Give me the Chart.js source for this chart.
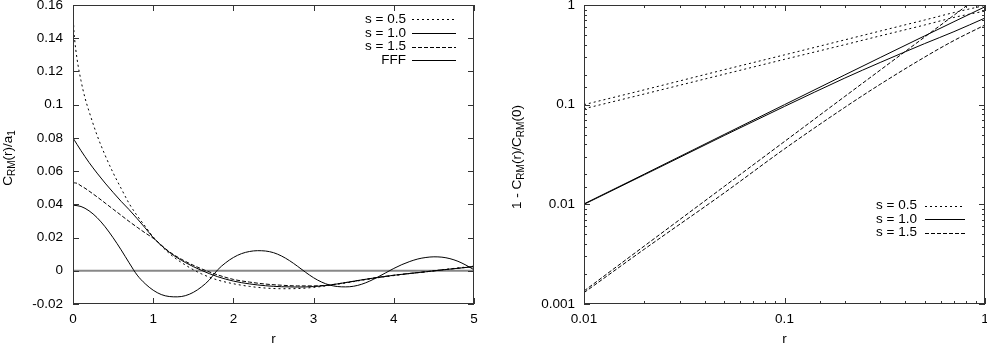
<!DOCTYPE html>
<html>
<head>
<meta charset="utf-8">
<script src="https://cdn.jsdelivr.net/npm/chart.js@4.4.1/dist/chart.umd.min.js"></script>
<style>
  body { margin: 0; background: #fff; }
  .panel { position: absolute; top: 0; height: 344px; }
</style>
</head>
<body>
<div class="panel" style="left:0;width:493px"><canvas id="leftChart"></canvas></div>
<div class="panel" style="left:493px;width:494px"><canvas id="rightChart"></canvas></div>
<script>
// left panel: C_RM(r)/a_1 against r
const rLeft = [0, 0.01, 0.02, 0.05, 0.1, 0.15, 0.2, 0.3, 0.4, 0.5, 0.6, 0.7, 0.8, 0.9, 1.0,
  1.2, 1.4, 1.6, 1.8, 2.0, 2.2, 2.4, 2.6, 2.8, 3.0, 3.2, 3.4, 3.6, 3.8, 4.0, 4.2, 4.4, 4.6, 4.8, 5.0];
const crmS05 = [0.16, 0.1454, 0.1395, 0.1277, 0.1144, 0.104, 0.096, 0.0816, 0.0696, 0.059, 0.0496, 0.0405, 0.0332, 0.0268, 0.0204,
  0.0105, 0.0035, -0.0018, -0.0055, -0.0078, -0.0094, -0.0104, -0.0108, -0.0107, -0.0100, -0.0088, -0.0073, -0.0057, -0.0042, -0.0029, -0.0017, -0.0006, 0.0006, 0.0017, 0.0028];
const crmS10 = [0.08, 0.0792, 0.0784, 0.0761, 0.0723, 0.0687, 0.0652, 0.0588, 0.0528, 0.0472, 0.0418, 0.0368, 0.0314, 0.0258, 0.0200,
  0.0112, 0.0050, 0.0003, -0.0035, -0.0062, -0.0079, -0.0090, -0.0096, -0.0098, -0.0095, -0.0086, -0.0071, -0.0055, -0.0040, -0.0027, -0.0016, -0.0006, 0.0005, 0.0015, 0.0025];
const crmS15 = [0.053, 0.053, 0.0529, 0.0527, 0.0511, 0.0497, 0.0480, 0.0445, 0.0408, 0.0371, 0.0334, 0.0297, 0.0262, 0.0228, 0.0196,
  0.0115, 0.0057, 0.0012, -0.0024, -0.0052, -0.0068, -0.0080, -0.0087, -0.0091, -0.0091, -0.0085, -0.0071, -0.0055, -0.0040, -0.0027, -0.0016, -0.0006, 0.0005, 0.0015, 0.0026];
const rFff = [0, 0.1, 0.2, 0.3, 0.4, 0.5, 0.6, 0.7, 0.8, 0.9, 1.0, 1.1, 1.2, 1.3, 1.4, 1.5, 1.6, 1.7, 1.8, 1.9, 2.0,
  2.1, 2.2, 2.3, 2.4, 2.5, 2.6, 2.7, 2.8, 2.9, 3.0, 3.1, 3.2, 3.3, 3.4, 3.5, 3.6, 3.7, 3.8, 3.9, 4.0,
  4.1, 4.2, 4.3, 4.4, 4.5, 4.6, 4.7, 4.8, 4.9, 5.0];
const crmFff = [0.0395, 0.0387, 0.0361, 0.0320, 0.0265, 0.0199, 0.0126, 0.0048, -0.0026, -0.0078, -0.0117, -0.0143, -0.0155, -0.0157, -0.0150, -0.0130, -0.0098, -0.0055, 0.0004, 0.0047, 0.0080,
  0.0103, 0.0116, 0.0121, 0.0119, 0.0109, 0.0089, 0.0061, 0.0027, -0.0009, -0.0042, -0.0068, -0.0086, -0.0095, -0.0097, -0.0093, -0.0081, -0.0062, -0.0038, -0.0012, 0.0014,
  0.0037, 0.0056, 0.0071, 0.0080, 0.0084, 0.0082, 0.0073, 0.0057, 0.0034, 0.0006];
const rZero = [0, 5];
const zeroLine = [0, 0];
const leftTicksY = [-0.02, 0.16, 0.02];   // min, max, step

// right panel: 1 - C_RM(r)/C_RM(0), log-log
const rRight = [0.01, 0.02, 0.05, 0.1, 0.2, 0.3, 0.5, 0.7, 1.0];
const dS05a = [0.1, 0.141, 0.224, 0.316, 0.447, 0.548, 0.707, 0.84, 0.99];
const dS05b = [0.091, 0.128, 0.202, 0.285, 0.40, 0.49, 0.63, 0.75, 0.87];
const dS10a = [0.0101, 0.0201, 0.0502, 0.100, 0.199, 0.297, 0.49, 0.68, 0.96];
const dS10b = [0.0100, 0.0198, 0.049, 0.096, 0.185, 0.265, 0.41, 0.54, 0.74];
const dS15a = [0.00135, 0.00382, 0.0151, 0.0427, 0.121, 0.222, 0.477, 0.79, 1.35];
const dS15b = [0.0013, 0.00355, 0.013, 0.036, 0.094, 0.16, 0.30, 0.44, 0.63];

const FAMILY = "'Liberation Sans', Arial, sans-serif";
const SIZE = 13.5;
const FRAME = "#333";
const DOTTED = [2, 3];
const DASHED = [4, 2];

Chart.defaults.font.family = FAMILY;
Chart.defaults.font.size = SIZE;
Chart.defaults.color = "#000";

function series(label, xs, ys, dash, extra) {
  return Object.assign({
    label,
    data: xs.map((x, i) => ({ x, y: ys[i] })),
    borderColor: "#000",
    borderWidth: 1,
    borderDash: dash,
    pointRadius: 0,
    fill: false,
    cubicInterpolationMode: "monotone",
  }, extra || {});
}

function isDecade(v) {
  const l = Math.log10(v);
  return Math.abs(l - Math.round(l)) < 1e-6;
}

// gnuplot style frame with inward ticks on all four sides
const frameTicks = {
  id: "frameTicks",
  afterDatasetsDraw(chart) {
    const { ctx, chartArea: a } = chart;
    ctx.save();
    ctx.strokeStyle = FRAME;
    ctx.lineWidth = 1;
    for (const scale of [chart.scales.x, chart.scales.y]) {
      const log = scale.type === "logarithmic";
      for (const t of scale.ticks) {
        const len = !log || isDecade(t.value) ? 6 : 3;
        const p = Math.round(scale.getPixelForValue(t.value)) + 0.5;
        ctx.beginPath();
        if (scale.isHorizontal()) {
          ctx.moveTo(p, a.bottom); ctx.lineTo(p, a.bottom - len);
          ctx.moveTo(p, a.top); ctx.lineTo(p, a.top + len);
        } else {
          ctx.moveTo(a.left, p); ctx.lineTo(a.left + len, p);
          ctx.moveTo(a.right, p); ctx.lineTo(a.right - len, p);
        }
        ctx.stroke();
      }
    }
    ctx.strokeRect(a.left + 0.5, a.top + 0.5, a.right - a.left - 1, a.bottom - a.top - 1);
    ctx.restore();
  }
};

// key: right-aligned text followed by a line sample
function makeKey(items, textRight, lineFrom, lineTo, y0, step) {
  return {
    id: "key",
    afterDraw(chart) {
      const { ctx } = chart;
      ctx.save();
      ctx.font = `${SIZE}px ${FAMILY}`;
      ctx.fillStyle = "#000";
      ctx.textAlign = "right";
      ctx.textBaseline = "middle";
      items.forEach((idx, k) => {
        const ds = chart.data.datasets[idx];
        const y = y0 + k * step;
        ctx.fillText(ds.label, textRight, y);
        ctx.beginPath();
        ctx.setLineDash(ds.borderDash || []);
        ctx.strokeStyle = ds.borderColor;
        ctx.lineWidth = ds.borderWidth;
        ctx.moveTo(lineFrom, Math.round(y) + 0.5);
        ctx.lineTo(lineTo, Math.round(y) + 0.5);
        ctx.stroke();
      });
      ctx.restore();
    }
  };
}

// rotated y title with subscripts
function makeTitle(parts, cx, cy) {
  return {
    id: "ytitle",
    afterDraw(chart) {
      const { ctx } = chart;
      const fontOf = sub => `${sub ? 10 : SIZE}px ${FAMILY}`;
      ctx.save();
      ctx.fillStyle = "#000";
      ctx.textAlign = "left";
      ctx.textBaseline = "middle";
      let total = 0;
      for (const [txt, sub] of parts) {
        ctx.font = fontOf(sub);
        total += ctx.measureText(txt).width;
      }
      ctx.translate(cx, cy);
      ctx.rotate(-Math.PI / 2);
      let x = -total / 2;
      for (const [txt, sub] of parts) {
        ctx.font = fontOf(sub);
        ctx.fillText(txt, x, sub ? 4 : 0);
        x += ctx.measureText(txt).width;
      }
      ctx.restore();
    }
  };
}

function xAxis(extra) {
  return Object.assign({
    grid: { display: false, drawTicks: false },
    border: { display: false },
    ticks: { padding: 7, maxRotation: 0, minRotation: 0, autoSkip: false },
    title: { display: true, text: "r", padding: { top: 0, bottom: -3 } },
    afterFit: s => { s.height = 40; s.paddingLeft = 0; s.paddingRight = 0; },
  }, extra);
}

function yAxis(width, pad, extra) {
  return Object.assign({
    grid: { display: false, drawTicks: false },
    border: { display: false },
    afterFit: s => { s.width = width; s.paddingTop = 0; s.paddingBottom = 0; },
  }, extra, { ticks: Object.assign({ padding: pad, autoSkip: false }, extra.ticks) });
}

new Chart(document.getElementById("leftChart"), {
  type: "line",
  data: {
    datasets: [
      series("s = 0.5", rLeft, crmS05, DOTTED),
      series("s = 1.0", rLeft, crmS10, []),
      series("s = 1.5", rLeft, crmS15, DASHED),
      series("FFF", rFff, crmFff, []),
      series("", rZero, zeroLine, [], { borderColor: "#888", borderWidth: 2, order: 1, cubicInterpolationMode: "default" }),
    ],
  },
  options: {
    responsive: true,
    maintainAspectRatio: false,
    animation: false,
    layout: { padding: { left: 0, right: 19, top: 5, bottom: 0 } },
    plugins: { legend: { display: false }, tooltip: { enabled: false } },
    scales: {
      x: xAxis({ type: "linear", min: 0, max: 5, ticks: { stepSize: 1, padding: 7, maxRotation: 0, autoSkip: false } }),
      y: yAxis(73, 10, {
        type: "linear", min: leftTicksY[0], max: leftTicksY[1],
        ticks: { stepSize: leftTicksY[2], callback: v => String(+v.toFixed(2)) },
      }),
    },
  },
  plugins: [frameTicks, makeKey([0, 1, 2, 3], 406, 412, 456, 19, 13.8),
    makeTitle([["C", false], ["RM", true], ["(r)/a", false], ["1", true]], 8.5, 158)],
});

new Chart(document.getElementById("rightChart"), {
  type: "line",
  data: {
    datasets: [
      series("s = 0.5", rRight, dS05a, DOTTED),
      series("s = 1.0", rRight, dS10a, []),
      series("s = 1.5", rRight, dS15a, DASHED),
      series("s = 0.5", rRight, dS05b, DOTTED),
      series("s = 1.0", rRight, dS10b, []),
      series("s = 1.5", rRight, dS15b, DASHED),
    ],
  },
  options: {
    responsive: true,
    maintainAspectRatio: false,
    animation: false,
    layout: { padding: { left: 0, right: 2, top: 5, bottom: 0 } },
    plugins: { legend: { display: false }, tooltip: { enabled: false } },
    scales: {
      x: xAxis({ type: "logarithmic", min: 0.01, max: 1,
        ticks: { padding: 7, maxRotation: 0, autoSkip: false, callback: v => isDecade(v) ? String(+v.toPrecision(1)) : "" } }),
      y: yAxis(91, 9, {
        type: "logarithmic", min: 0.001, max: 1,
        ticks: { callback: v => isDecade(v) ? String(+v.toPrecision(1)) : "" },
      }),
    },
  },
  plugins: [frameTicks, makeKey([0, 1, 2], 424, 432, 472, 205.5, 13.6),
    makeTitle([["1 - C", false], ["RM", true], ["(r)/C", false], ["RM", true], ["(0)", false]], 24, 157)],
});
</script>
</body>
</html>
